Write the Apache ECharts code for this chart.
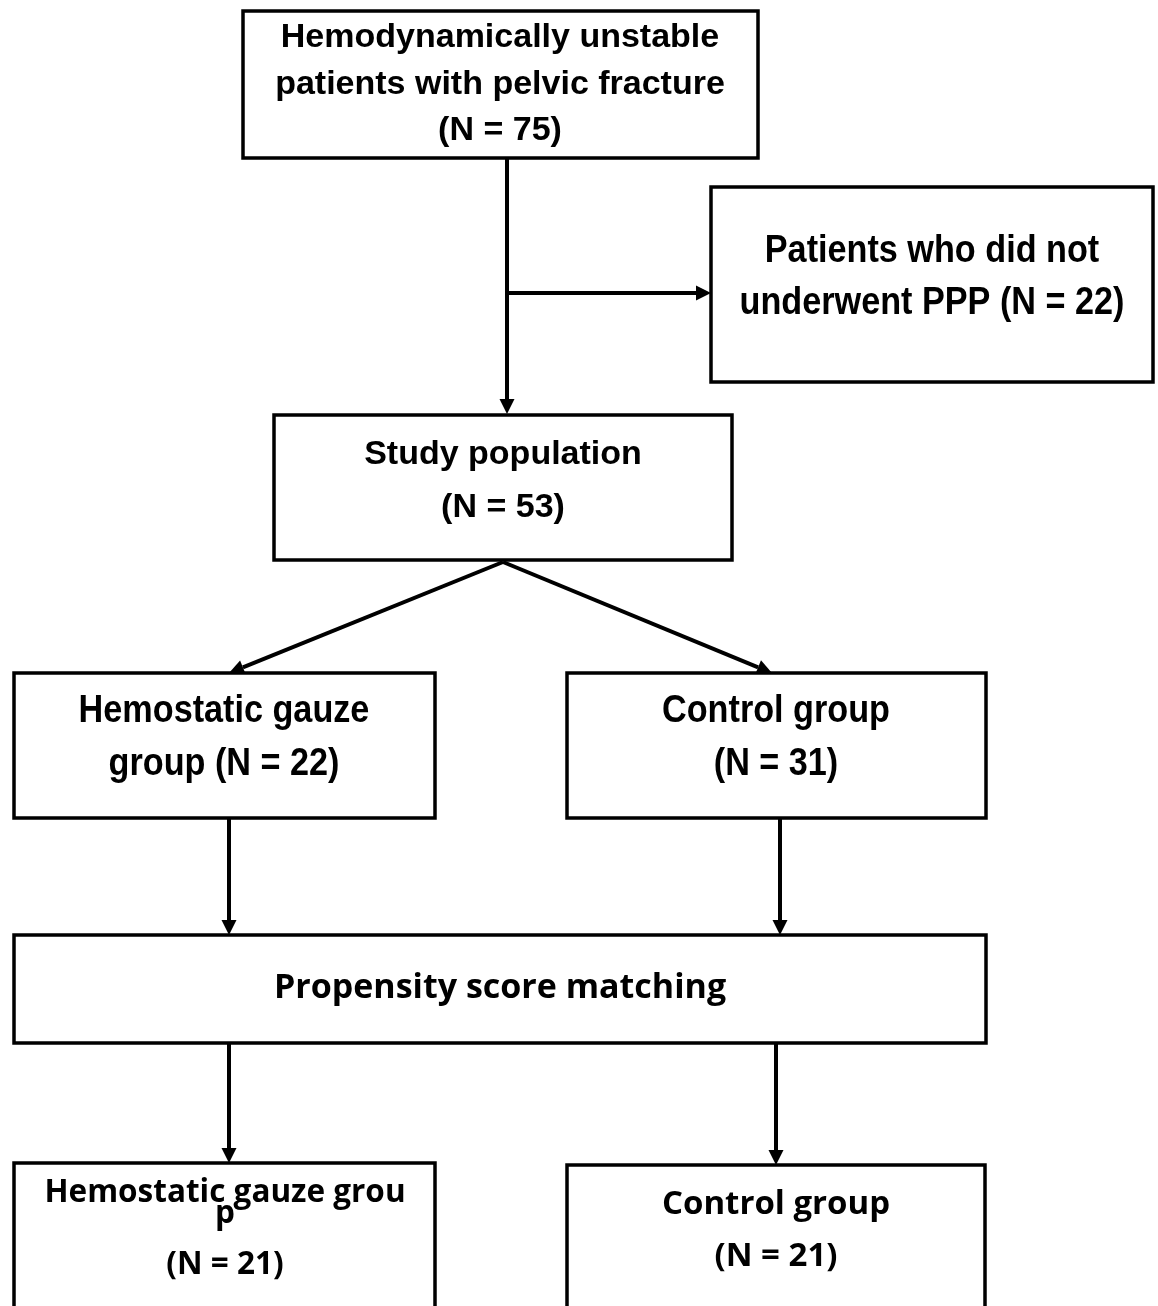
<!DOCTYPE html>
<html>
<head>
<meta charset="utf-8">
<title>Flow chart</title>
<script src="https://cdn.jsdelivr.net/npm/echarts@6/dist/echarts.min.js"></script>
<style>
  html, body { margin: 0; padding: 0; background: #fff; }
  #chart { width: 1158px; height: 1306px; }
</style>
</head>
<body>
<div id="chart"></div>
<script>
// box texts and counts
const boxTitles = [
  'Hemodynamically unstable\npatients with pelvic fracture\n',
  'Patients who did not\nunderwent PPP ',
  'Study population\n',
  'Hemostatic gauze\ngroup ',
  'Control group\n',
  'Propensity score matching',
  'Hemostatic gauze grou\np\n',
  'Control group\n'
];
const boxCounts = [75, 22, 53, 22, 31, null, 21, 21];
const countLabels = boxCounts.map(n => n == null ? '' : '(N = ' + n + ')');

// flow: from box -> to box
const links = [[0, 2], [0, 1], [2, 3], [2, 4], [3, 5], [4, 5], [5, 6], [5, 7]];

// layout (pixels in a 1158 x 1306 frame)
const arial = { family: 'Liberation Sans, Arial, sans-serif', weight: 'bold', size: 34, scaleX: 1 };
const narrow = { family: 'Liberation Sans, Arial, sans-serif', weight: 'bold', size: 38, scaleX: 0.9 };
const gothic = (size) => ({ family: 'Open Sans, Noto Sans, sans-serif', weight: 'bold', size: size, scaleX: 1 });
const layout = [
  { rect: [243, 11, 758, 158], cx: 500, lines: [38, 85, 131], font: arial },
  { rect: [711, 187, 1153, 382], cx: 932, lines: [252, 304], font: narrow },
  { rect: [274, 415, 732, 560], cx: 503, lines: [455, 508], font: arial },
  { rect: [14, 673, 435, 818], cx: 224, lines: [712, 765], font: narrow },
  { rect: [567, 673, 986, 818], cx: 776, lines: [712, 765], font: narrow },
  { rect: [14, 935, 986, 1043], cx: 500, lines: [988], font: gothic(34) },
  { rect: [14, 1163, 435, 1330], cx: 225, lines: [1193, 1214, 1265], font: gothic(31.5) },
  { rect: [567, 1165, 985, 1330], cx: 776, lines: [1205, 1257], font: gothic(33) }
];
const linkPaths = [
  [[507, 158], [507, 414]],
  [[507, 293], [711, 293]],
  [[503, 562], [229, 673]],
  [[503, 562], [772, 673]],
  [[229, 818], [229, 935]],
  [[780, 818], [780, 935]],
  [[229, 1043], [229, 1163]],
  [[776, 1043], [776, 1165]]
];

const chart = echarts.init(document.getElementById('chart'));

const boxData = layout.map((b, i) => [b.rect[0], b.rect[1], b.rect[2], b.rect[3], i]);
const linkData = links.map((l, i) => [linkPaths[i][0][0], linkPaths[i][0][1], linkPaths[i][1][0], linkPaths[i][1][1], l[0], l[1]]);

function renderBox(params, api) {
  const i = api.value(4);
  const b = layout[i];
  const p1 = api.coord([api.value(0), api.value(1)]);
  const p2 = api.coord([api.value(2), api.value(3)]);
  const lines = (boxTitles[i] + countLabels[i]).split('\n');
  const children = [{
    type: 'rect',
    shape: { x: p1[0], y: p1[1], width: p2[0] - p1[0], height: p2[1] - p1[1] },
    style: { fill: '#fff', stroke: '#000', lineWidth: 3.5 }
  }];
  lines.forEach((t, k) => {
    const pos = api.coord([b.cx, b.lines[k]]);
    children.push({
      type: 'text',
      x: pos[0],
      y: pos[1],
      scaleX: b.font.scaleX,
      style: {
        text: t,
        fill: '#000',
        fontSize: b.font.size,
        fontFamily: b.font.family,
        fontWeight: b.font.weight,
        align: 'center',
        verticalAlign: 'middle'
      }
    });
  });
  return { type: 'group', children: children };
}

function renderLink(params, api) {
  const a = api.coord([api.value(0), api.value(1)]);
  const c = api.coord([api.value(2), api.value(3)]);
  const dx = c[0] - a[0], dy = c[1] - a[1];
  const len = Math.sqrt(dx * dx + dy * dy);
  const ux = dx / len, uy = dy / len;
  const headLen = 15, headW = 7.5;
  const base = [c[0] - ux * headLen, c[1] - uy * headLen];
  return {
    type: 'group',
    children: [{
      type: 'line',
      shape: { x1: a[0], y1: a[1], x2: base[0], y2: base[1] },
      style: { stroke: '#000', lineWidth: 4 }
    }, {
      type: 'polygon',
      shape: {
        points: [
          c,
          [base[0] - uy * headW, base[1] + ux * headW],
          [base[0] + uy * headW, base[1] - ux * headW]
        ]
      },
      style: { fill: '#000' }
    }]
  };
}

chart.setOption({
  animation: false,
  grid: { left: 0, right: 0, top: 0, bottom: 0 },
  xAxis: { type: 'value', min: 0, max: 1158, show: false },
  yAxis: { type: 'value', min: 0, max: 1306, inverse: true, show: false },
  series: [
    {
      type: 'custom',
      name: 'links',
      renderItem: renderLink,
      data: linkData,
      z: 1
    },
    {
      type: 'custom',
      name: 'boxes',
      renderItem: renderBox,
      data: boxData,
      z: 2
    }
  ]
});
</script>
</body>
</html>
